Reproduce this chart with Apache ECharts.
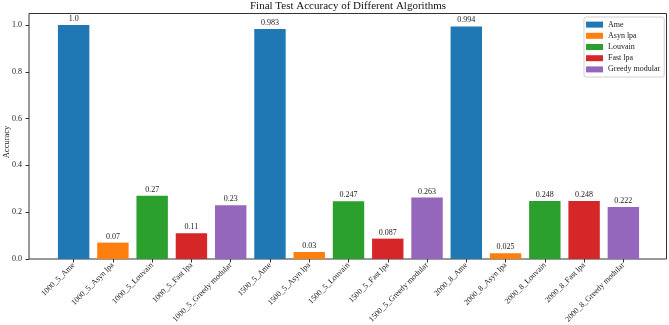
<!DOCTYPE html>
<html>
<head>
<meta charset="utf-8">
<script src="https://cdn.jsdelivr.net/npm/echarts@6/dist/echarts.min.js"></script>
<style>
  html, body { margin: 0; padding: 0; background: #fff; }
  #chart { width: 669px; height: 325px; }
</style>
</head>
<body>
<div id="chart"></div>
<script>
// data
const datasets = ['1000_5', '1500_5', '2000_8'];
const algorithms = ['Ame', 'Asyn lpa', 'Louvain', 'Fast lpa', 'Greedy modular'];
const ameValues = [1.0, 0.983, 0.994];
const asynLpaValues = [0.07, 0.03, 0.025];
const louvainValues = [0.27, 0.247, 0.248];
const fastLpaValues = [0.11, 0.087, 0.248];
const greedyValues = [0.23, 0.263, 0.222];
const yTicks = [0, 0.2, 0.4, 0.6, 0.8, 1.0];

const colors = ['#1f77b4', '#ff7f0e', '#2ca02c', '#d62728', '#9467bd'];
const seriesValues = [ameValues, asynLpaValues, louvainValues, fastLpaValues, greedyValues];
const font = '"Liberation Serif", "DejaVu Serif", serif';

// one category per (dataset, algorithm) pair
const categories = [];
datasets.forEach(d => algorithms.forEach(a => categories.push(d + '_' + a)));

const chart = echarts.init(document.getElementById('chart'));

const series = algorithms.map((name, k) => {
  const data = categories.map(() => '-');
  datasets.forEach((d, i) => {
    data[i * algorithms.length + k] = seriesValues[k][i];
  });
  return {
    name: name,
    type: 'bar',
    xAxisIndex: 1,
    yAxisIndex: 1,
    barWidth: '80%',
    barGap: '-100%',
    data: data,
    itemStyle: { color: colors[k] },
    label: {
      show: true,
      position: 'top',
      distance: 2,
      fontFamily: font,
      fontSize: 8,
      color: '#222',
      formatter: p => Number.isInteger(p.value) ? p.value.toFixed(1) : String(p.value)
    },
    animation: false
  };
});

const yMin = yTicks[0];
const yMax = yTicks[yTicks.length - 1];

const option = {
  backgroundColor: '#fff',
  animation: false,
  title: {
    text: 'Final Test Accuracy of Different Algorithms',
    left: 348,
    textAlign: 'center',
    top: 1,
    padding: 0,
    textStyle: { fontFamily: font, fontSize: 11, fontWeight: 'normal', color: '#111' }
  },
  legend: {
    data: algorithms,
    orient: 'vertical',
    left: 584,
    top: 17,
    padding: [2, 4, 2, 2],
    itemWidth: 17,
    itemHeight: 6,
    itemGap: 0,
    icon: 'rect',
    backgroundColor: '#fff',
    borderColor: '#d0d0d0',
    borderWidth: 1,
    borderRadius: 2,
    textStyle: { fontFamily: font, fontSize: 8, color: '#222', lineHeight: 11.2 }
  },
  grid: [
    // plot frame
    { left: 29, right: 2.5, top: 13.5, bottom: 66, show: true, borderColor: '#333', borderWidth: 1,
      outerBoundsMode: 'none', containLabel: false },
    // bar area (matplotlib leaves margin beside the first and last bar)
    { left: 54, width: 589, top: 25, bottom: 66, outerBoundsMode: 'none', containLabel: false },
    // y axis, at the frame's left edge
    { left: 29, right: 2.5, top: 25, bottom: 66, outerBoundsMode: 'none', containLabel: false }
  ],
  xAxis: [
    { gridIndex: 0, type: 'value', show: false },
    {
      gridIndex: 1,
      type: 'category',
      data: categories,
      axisLine: { show: false },
      axisTick: { show: true, alignWithLabel: true, length: 3.5, lineStyle: { color: '#333' } },
      axisLabel: { rotate: 45, interval: 0, margin: 5, fontFamily: font, fontSize: 8, color: '#222' }
    },
    { gridIndex: 2, type: 'value', show: false }
  ],
  yAxis: [
    { gridIndex: 0, type: 'value', show: false },
    { gridIndex: 1, type: 'value', min: yMin, max: yMax, show: false },
    {
      gridIndex: 2,
      type: 'value',
      min: yMin,
      max: yMax,
      interval: 0.2,
      name: 'Accuracy',
      nameLocation: 'middle',
      nameGap: 18,
      nameMoveOverlap: false,
      nameTextStyle: { fontFamily: font, fontSize: 8.5, color: '#222' },
      axisLine: { show: false },
      axisTick: { show: true, length: 3.5, lineStyle: { color: '#333' } },
      axisLabel: { margin: 7, fontFamily: font, fontSize: 8, color: '#222', formatter: v => v.toFixed(1) },
      splitLine: { show: false }
    }
  ],
  series: series
};

chart.setOption(option);
</script>
</body>
</html>
